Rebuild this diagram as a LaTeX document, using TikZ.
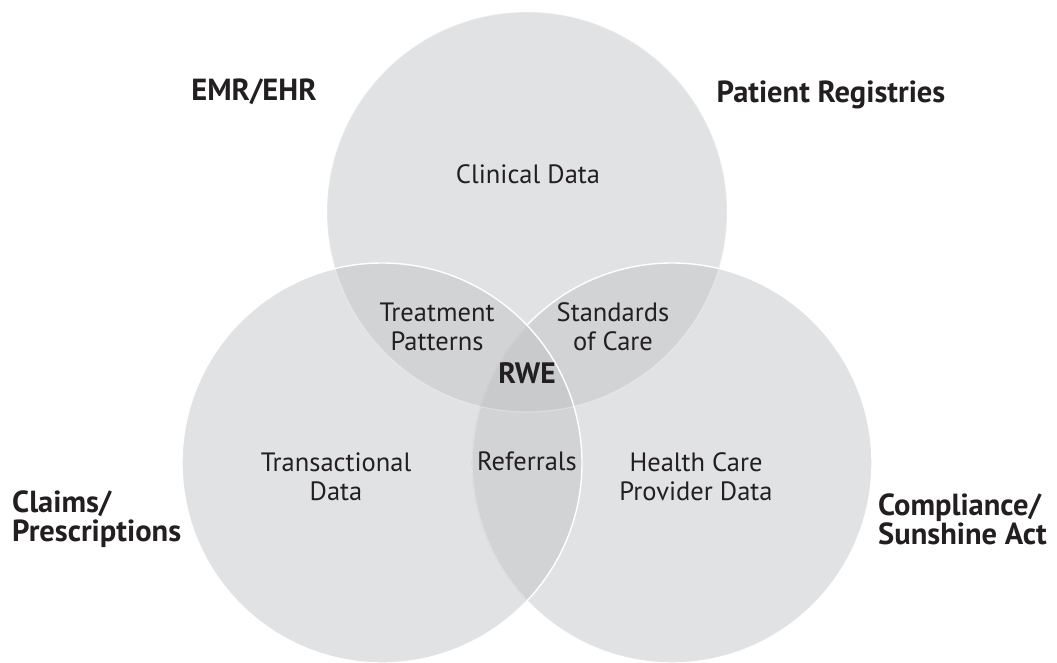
\documentclass[tikz,border=0pt]{standalone}
\usepackage{fontspec}
\setmainfont{PT Sans}
\usepackage{tikz}

\definecolor{vennfill}{HTML}{E1E2E4}
\definecolor{pairfill}{HTML}{D2D3D5}
\definecolor{triplefill}{HTML}{C9CACC}
\definecolor{inktext}{HTML}{231F20}

\begin{document}
\begin{tikzpicture}[x=1pt,y=-1pt]
	\tikzstyle{every node}+=[inner sep=0pt, text=inktext]
	\tikzstyle{region}=[align=center, font=\fontsize{26.5}{29}\selectfont]
	\tikzstyle{source}=[align=left, font=\fontsize{30.5}{29}\selectfont\bfseries]
	\useasboundingbox (0,0) rectangle (1057,663);
	% the three circles
	\fill [vennfill] (527,212) circle (200pt);
	\fill [vennfill] (382,463) circle (200pt);
	\fill [vennfill] (672,463) circle (200pt);
	% pairwise overlaps
	\begin{scope}
		\clip (527,212) circle (200pt);
		\fill [pairfill] (382,463) circle (200pt);
		\fill [pairfill] (672,463) circle (200pt);
	\end{scope}
	\begin{scope}
		\clip (382,463) circle (200pt);
		\fill [pairfill] (672,463) circle (200pt);
	\end{scope}
	% centre
	\begin{scope}
		\clip (527,212) circle (200pt);
		\clip (382,463) circle (200pt);
		\fill [triplefill] (672,463) circle (200pt);
	\end{scope}
	% outlines
	\draw [white, opacity=0.3, line width=1.2pt] (527,212) circle (200pt);
	\draw [white, line width=1.4pt] (672,463) circle (200pt);
	\begin{scope}
		\clip (382,463) circle (200pt);
		\draw [pairfill, opacity=0.75, line width=1.6pt] (672,463) circle (200pt);
		\clip (527,212) circle (200pt);
		\draw [triplefill, opacity=0.75, line width=1.6pt] (672,463) circle (200pt);
	\end{scope}
	\draw [white, line width=1.4pt] (382,463) circle (200pt);
	% region texts
	\node [region] (clinical) at (528,174) {Clinical Data};
	\node [region] (treatment) at (437,327) {Treatment\\Patterns};
	\node [region] (standards) at (613,327) {Standards\\of Care};
	\node [region] (transactional) at (336,477) {Transactional\\Data};
	\node [region] (referrals) at (527,461) {Referrals};
	\node [region] (provider) at (696,477) {Health Care\\Provider Data};
	\node [region, font=\fontsize{29.5}{29}\selectfont\bfseries] (rwe) at (527,373) {RWE};
	% data sources
	\node [source] (emr) at (254,92) {EMR/EHR};
	\node [source] (registries) at (831,95) {Patient Registries};
	\node [source, anchor=west] (claims) at (12,519) {Claims/\\Prescriptions};
	\node [source, anchor=west] (compliance) at (878,519) {Compliance/\\Sunshine Act};
\end{tikzpicture}
\end{document}
